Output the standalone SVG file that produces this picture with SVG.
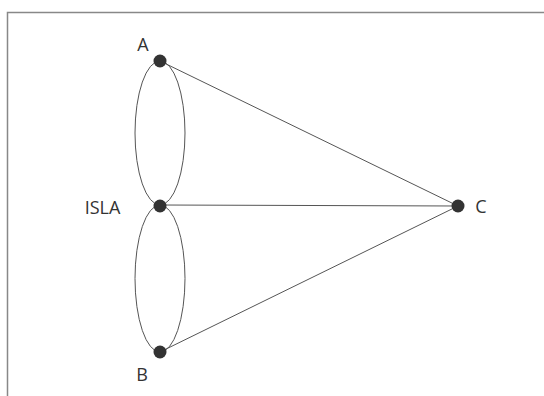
<svg xmlns="http://www.w3.org/2000/svg" width="544" height="396" viewBox="0 0 544 396">
<style>
.edge{fill:none;stroke:#555;stroke-width:1}
.dot{fill:#333}
.lbl{font-family:"Open Sans","DejaVu Sans",sans-serif;font-size:18px;fill:#333}
</style>
<rect x="0" y="0" width="544" height="396" fill="#fff"/>
<path d="M7.5 396 V12.5 H544" fill="none" stroke="#888" stroke-width="1.5"/>
<g id="connectors">
<ellipse class="edge" cx="160" cy="133" rx="25" ry="72"/>
<ellipse class="edge" cx="160" cy="278.5" rx="25" ry="73.5"/>
<line class="edge" x1="160" y1="61" x2="458" y2="206"/>
<line class="edge" x1="160" y1="205" x2="458" y2="206"/>
<line class="edge" x1="160" y1="352" x2="458" y2="206"/>
</g>
<g id="A"><circle class="dot" cx="160" cy="61" r="6.5"/><text class="lbl" x="143" y="51" text-anchor="middle">A</text></g>
<g id="ISLA"><circle class="dot" cx="160" cy="206" r="6.5"/><text class="lbl" x="102.5" y="214" text-anchor="middle">ISLA</text></g>
<g id="B"><circle class="dot" cx="160" cy="352" r="6.5"/><text class="lbl" x="142" y="381" text-anchor="middle">B</text></g>
<g id="C"><circle class="dot" cx="458" cy="206" r="6.5"/><text class="lbl" x="481" y="213" text-anchor="middle">C</text></g>
</svg>
